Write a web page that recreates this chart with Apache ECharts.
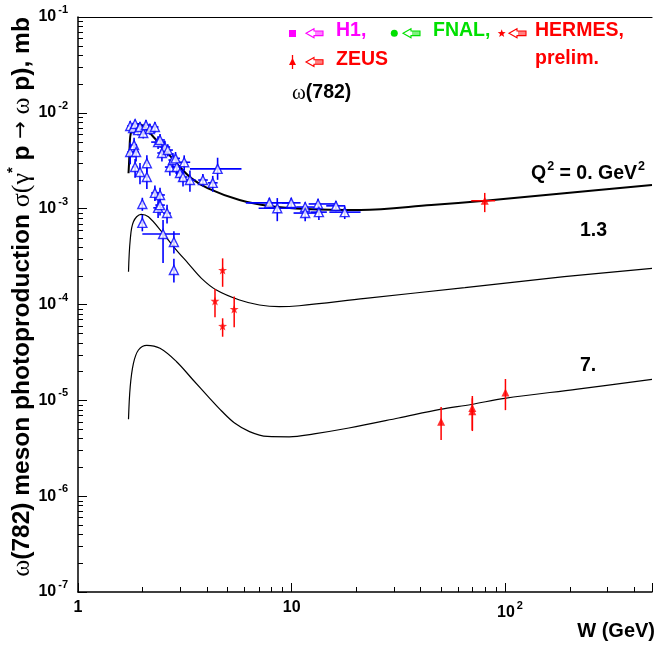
<!DOCTYPE html>
<html><head><meta charset="utf-8">
<script src="https://cdn.jsdelivr.net/npm/echarts@6/dist/echarts.min.js"></script>
<style>html,body{margin:0;padding:0;background:#fff}#c{width:655px;height:646px}</style>
</head><body><div id="c"></div>
<script>
// ---- theory curves [W (GeV), sigma (mb)] ----
const curveQ0 = [[1.723,2.34e-3],[1.736,3.22e-3],[1.755,5.63e-3],[1.798,6.90e-3],[1.885,7.64e-3],[1.989,7.46e-3],[2.214,5.87e-3],[2.553,4.09e-3],[2.944,2.85e-3],[3.398,2.07e-3],[4.058,1.63e-3],[5.70,1.23e-3],[7.86,1.066e-3],[11.65,0.992e-3],[21.0,0.968e-3],[45.0,1.092e-3],[80.1,1.21e-3],[188.5,1.446e-3],[485,1.765e-3]];
const curveQ13 = [[1.723,2.20e-4],[1.755,4.71e-4],[1.817,7.31e-4],[1.974,8.73e-4],[2.135,8.24e-4],[2.464,5.75e-4],[2.841,3.86e-4],[3.276,2.69e-4],[3.782,1.876e-4],[4.441,1.416e-4],[5.70,1.113e-4],[7.06,0.988e-4],[8.75,0.948e-4],[10.84,0.971e-4],[22.13,1.16e-4],[64.6,1.497e-4],[188.5,1.95e-4],[485,2.385e-4]];
const curveQ7 = [[1.723,6.34e-6],[1.755,1.387e-5],[1.817,2.433e-5],[1.918,3.35e-5],[2.098,3.75e-5],[2.419,3.49e-5],[2.893,2.53e-5],[3.456,1.63e-5],[4.134,1.05e-5],[4.699,7.74e-6],[5.403,5.80e-6],[6.345,4.72e-6],[7.69,4.20e-6],[9.74,4.16e-6],[12.72,4.47e-6],[18.51,5.14e-6],[31.6,6.54e-6],[49.4,8.05e-6],[69.3,9.05e-6],[99.2,1.05e-5],[217.5,1.31e-5],[485,1.657e-5]];

// ---- data points: [W, sigma, Wlow, Whigh, sigmaLow, sigmaHigh] ----
const blueData = [
 [1.755,7.29e-3,1.70,1.81,6.4e-3,8.2e-3],[1.81,6.95e-3,1.75,1.87,6.1e-3,7.8e-3],[1.85,7.64e-3,1.79,1.92,6.8e-3,8.5e-3],
 [1.91,6.6e-3,1.85,1.97,5.8e-3,7.4e-3],[1.95,7.12e-3,1.89,2.02,6.3e-3,8.0e-3],[2.02,6.16e-3,1.96,2.08,5.4e-3,7.0e-3],
 [2.08,7.45e-3,2.01,2.15,6.5e-3,8.4e-3],[2.17,6.78e-3,2.10,2.25,5.9e-3,7.7e-3],[2.29,7.12e-3,2.20,2.38,6.2e-3,8.0e-3],
 [1.755,3.9e-3,1.70,1.81,2.9e-3,4.9e-3],[1.83,4.6e-3,1.77,1.89,3.7e-3,5.5e-3],[1.87,3.9e-3,1.81,1.93,3.1e-3,4.7e-3],
 [1.85,2.72e-3,1.80,1.90,2.1e-3,3.3e-3],[2.10,2.98e-3,2.05,2.15,2.4e-3,3.6e-3],[2.10,2.14e-3,2.05,2.15,1.6e-3,2.7e-3],
 [1.95,2.41e-3,1.90,2.00,1.8e-3,3.0e-3],[2.37,4.95e-3,2.20,2.55,4.2e-3,5.7e-3],[2.55,4.40e-3,2.40,2.70,3.7e-3,5.1e-3],
 [2.47,3.81e-3,2.35,2.60,3.1e-3,4.5e-3],[2.69,2.72e-3,2.55,2.85,2.2e-3,3.2e-3],[2.78,3.22e-3,2.65,2.92,2.7e-3,3.8e-3],
 [2.90,2.72e-3,2.75,3.05,2.2e-3,3.2e-3],[3.00,2.36e-3,2.85,3.15,1.9e-3,2.8e-3],[3.14,3.05e-3,2.95,3.35,2.5e-3,3.6e-3],
 [3.10,2.14e-3,2.95,3.25,1.7e-3,2.6e-3],[3.34,1.99e-3,3.15,3.55,1.5e-3,2.5e-3],[3.84,1.99e-3,3.65,4.05,1.7e-3,2.3e-3],
 [4.27,1.86e-3,4.05,4.50,1.5e-3,2.2e-3],[4.50,2.60e-3,3.34,5.82,2.0e-3,3.4e-3],[2.42,5.21e-3,2.30,2.55,4.5e-3,6.0e-3],
 [2.63,4.09e-3,2.50,2.78,3.5e-3,4.7e-3],[2.86,3.35e-3,2.72,3.00,2.9e-3,3.9e-3],
 [2.0,1.12e-3,1.95,2.05,0.95e-3,1.3e-3],[2.29,1.46e-3,2.20,2.40,1.2e-3,1.75e-3],[2.42,1.39e-3,2.30,2.55,1.15e-3,1.65e-3],
 [2.37,1.02e-3,2.25,2.50,0.80e-3,1.25e-3],[2.42,1.09e-3,2.30,2.55,0.85e-3,1.35e-3],[2.61,0.90e-3,2.50,2.72,0.70e-3,1.10e-3],
 [2.0,0.71e-3,1.95,2.05,0.58e-3,0.86e-3],[2.50,0.544e-3,2.0,3.0,0.271e-3,0.761e-3],[2.81,0.449e-3,2.75,2.87,0.34e-3,0.58e-3],
 [2.81,0.229e-3,2.75,2.87,0.17e-3,0.30e-3],
 [7.86,1.15e-3,6.1,10.0,1.0e-3,1.3e-3],[8.56,1.01e-3,7.0,10.5,0.74e-3,1.29e-3],[9.95,1.15e-3,9.0,11.0,1.0e-3,1.3e-3],
 [11.56,1.04e-3,10.5,12.7,0.92e-3,1.17e-3],[11.56,0.90e-3,10.2,13.0,0.74e-3,1.05e-3],[13.28,1.12e-3,12.0,16.0,0.98e-3,1.27e-3],
 [13.4,0.92e-3,12.3,14.6,0.76e-3,1.08e-3],[16.1,1.07e-3,14.5,17.8,0.94e-3,1.2e-3],[17.7,0.92e-3,15.0,21.0,0.78e-3,1.06e-3]
];
// HERMES prelim: [W, sigma, sigmaLow, sigmaHigh]
const hermesData = [[4.375,1.09e-4,7.35e-5,1.45e-4],[4.75,2.29e-4,1.53e-4,3.03e-4],[4.75,5.97e-5,4.61e-5,7.18e-5],[5.38,8.97e-5,5.78e-5,1.21e-4]];
// ZEUS: [W, sigma, Wlow, Whigh, sigmaLow, sigmaHigh]
const zeusData = [[80,1.21e-3,69.2,89.5,0.92e-3,1.46e-3],[50,5.98e-6,50,50,3.85e-6,8.5e-6],[70,8.3e-6,70,70,4.78e-6,1.11e-5],[70,7.7e-6,70,70,4.9e-6,1.05e-5],[100,1.21e-5,100,100,7.9e-6,1.67e-5]];

// ---- axes ----
const xMin = 1, xMax = 485, yMin = 1e-7, yMax = 1e-1;
const xMinorTicks = [2,3,4,5,6,7,8,9,20,30,40,50,60,70,80,90,200,300,400];
const yMinorTicks = [];
for (let e = -7; e <= -2; e++) for (let k = 2; k <= 9; k++) yMinorTicks.push(k * Math.pow(10, e));
const curveLabels = ['{b|Q}{s|2}{b| = 0. GeV}{s|2}', '1.3', '7.'];

const BLUE = '#0000ff', RED = '#ff0000', MAG = '#ff00ff', GREEN = '#00e000';
const SANS = 'Liberation Sans, Arial, sans-serif', SERIF = 'Liberation Serif, Times New Roman, serif';

function decadeLabel(v, isX) {
  const e = Math.round(Math.log10(v));
  if (Math.abs(v - Math.pow(10, e)) > 1e-6 * v) return '';
  if (isX && e === 0) return '1';
  if (isX && e === 1) return '10';
  if (isX) return '{pad|10}{sup|' + e + '}';
  return '10{sup|' + e + '}';
}
const supRich = {
  sup: { fontSize: 11, fontWeight: 'bold', fontFamily: SANS, color: '#000', padding: [0, 0, 14, 2] },
  pad: { fontSize: 16, fontWeight: 'bold', fontFamily: SANS, color: '#000', padding: [0, 0, 0, 9] }
};

function errBarRender(color, lw) {
  return function (params, api) {
    const c = api.coord([api.value(0), api.value(1)]);
    const xl = api.coord([api.value(2), api.value(1)]);
    const xh = api.coord([api.value(3), api.value(1)]);
    const yl = api.coord([api.value(0), api.value(4)]);
    const yh = api.coord([api.value(0), api.value(5)]);
    const ch = [];
    if (Math.abs(xh[0] - xl[0]) > 0.5) ch.push({ type: 'line', shape: { x1: xl[0], y1: c[1], x2: xh[0], y2: c[1] }, style: { stroke: color, lineWidth: lw } });
    ch.push({ type: 'line', shape: { x1: c[0], y1: yl[1], x2: c[0], y2: yh[1] }, style: { stroke: color, lineWidth: lw } });
    return { type: 'group', children: ch };
  };
}
function minorTickRender(dir) {
  return function (params, api) {
    const p = api.coord([api.value(0), api.value(1)]);
    if (dir === 'x') {
      const x = Math.round(p[0]) + 0.5;
      return { type: 'line', shape: { x1: x, y1: p[1], x2: x, y2: p[1] - 5 }, style: { stroke: '#000', lineWidth: 1 } };
    }
    const y = Math.round(p[1]) + 0.5;
    return { type: 'line', shape: { x1: p[0], y1: y, x2: p[0] + 5, y2: y }, style: { stroke: '#000', lineWidth: 1 } };
  };
}
const starPath = 'path://M0,-10L2.35,-3.24L9.51,-3.09L3.8,1.24L5.88,8.09L0,4L-5.88,8.09L-3.8,1.24L-9.51,-3.09L-2.35,-3.24Z';
function starPoints(cx, cy, r) {
  const pts = [];
  for (let i = 0; i < 10; i++) {
    const a = -Math.PI / 2 + i * Math.PI / 5, rr = i % 2 ? r * 0.42 : r;
    pts.push([cx + rr * Math.cos(a), cy + rr * Math.sin(a)]);
  }
  return pts;
}
function arrow(x, y, color) {
  const ch = [{ type: 'polygon', shape: { points: [[x, y], [x + 8, y - 4.5], [x + 8, y - 2.3], [x + 17, y - 2.3], [x + 17, y + 2.3], [x + 8, y + 2.3], [x + 8, y + 4.5]] }, style: { fill: '#fff', stroke: color, lineWidth: 1.1 } }];
  for (let i = 0; i < 4; i++) { const xx = x + 10 + i * 2; ch.push({ type: 'line', shape: { x1: xx, y1: y - 2.3, x2: xx, y2: y + 2.3 }, style: { stroke: color, lineWidth: 1 } }); }
  return { type: 'group', children: ch };
}
function txt(x, y, text, color, extra) {
  return { type: 'text', x: x, y: y, style: Object.assign({ text: text, fill: color, fontSize: 19.5, fontWeight: 'bold', fontFamily: SANS, verticalAlign: 'middle', textAlign: 'left' }, extra || {}) };
}

const chart = echarts.init(document.getElementById('c'), null, { renderer: 'canvas' });
chart.setOption({
  animation: false,
  backgroundColor: '#fff',
  grid: { left: 78, right: 0, top: 17, bottom: 54, containLabel: false },
  xAxis: [
    { type: 'log', logBase: 10, min: xMin, max: xMax, position: 'bottom',
      axisLine: { show: true, lineStyle: { color: '#000', width: 1.5 } },
      axisTick: { show: true, inside: true, length: 9, lineStyle: { color: '#000', width: 1 } },
      axisLabel: { show: true, margin: 8, color: '#000', fontSize: 16, fontWeight: 'bold', fontFamily: SANS, showMinLabel: true,
        formatter: v => decadeLabel(v, true), rich: supRich },
      splitLine: { show: false } },
    { type: 'log', logBase: 10, min: xMin, max: xMax, position: 'top',
      axisLine: { show: true, lineStyle: { color: '#000', width: 1.2 } },
      axisTick: { show: false }, axisLabel: { show: false }, splitLine: { show: false } }
  ],
  yAxis: [
    { type: 'log', logBase: 10, min: yMin, max: yMax,
      axisLine: { show: true, lineStyle: { color: '#000', width: 1.5 } },
      axisTick: { show: true, inside: true, length: 9, lineStyle: { color: '#000', width: 1 } },
      axisLabel: { show: true, margin: 10, color: '#000', fontSize: 16, fontWeight: 'bold', fontFamily: SANS, showMinLabel: true, showMaxLabel: true,
        formatter: v => decadeLabel(v, false), rich: supRich },
      splitLine: { show: false } }
  ],
  series: [
    { type: 'custom', silent: true, clip: false, data: xMinorTicks.map(v => [v, yMin]), renderItem: minorTickRender('x'), z: 5 },
    { type: 'custom', silent: true, clip: false, data: yMinorTicks.map(v => [xMin, v]), renderItem: minorTickRender('y'), z: 5 },
    { type: 'line', data: curveQ0, showSymbol: false, smooth: 0.35, lineStyle: { color: '#000', width: 2 }, z: 3, silent: true },
    { type: 'line', data: curveQ13, showSymbol: false, smooth: 0.35, lineStyle: { color: '#000', width: 1.2 }, z: 3, silent: true },
    { type: 'line', data: curveQ7, showSymbol: false, smooth: 0.35, lineStyle: { color: '#000', width: 1.2 }, z: 3, silent: true },
    { type: 'custom', data: blueData, renderItem: errBarRender(BLUE, 1.6), z: 4, silent: true },
    { type: 'custom', data: hermesData.map(r => [r[0], r[1], r[0], r[0], r[2], r[3]]), renderItem: errBarRender(RED, 1.5), z: 4, silent: true },
    { type: 'custom', data: zeusData, renderItem: errBarRender(RED, 1.5), z: 4, silent: true },
    { type: 'scatter', data: blueData.map(r => [r[0], r[1]]), symbol: 'triangle', symbolSize: 9,
      itemStyle: { color: '#fff', borderColor: BLUE, borderWidth: 1.4 }, z: 6, silent: true },
    { type: 'scatter', data: hermesData.map(r => [r[0], r[1]]), symbol: starPath, symbolSize: 9,
      itemStyle: { color: RED }, z: 6, silent: true },
    { type: 'scatter', data: zeusData.map(r => [r[0], r[1]]), symbol: 'triangle', symbolSize: 8,
      itemStyle: { color: RED }, z: 6, silent: true }
  ],
  graphic: [
    { type: 'rect', shape: { x: 289, y: 30, width: 7, height: 7 }, style: { fill: MAG } },
    arrow(306, 33.3, MAG), txt(336, 31, 'H1,', MAG),
    { type: 'line', shape: { x1: 292.5, y1: 55, x2: 292.5, y2: 69 }, style: { stroke: RED, lineWidth: 1.3 } },
    { type: 'polygon', shape: { points: [[292.5, 58], [296, 65], [289, 65]] }, style: { fill: RED } },
    arrow(306, 62, RED), txt(336, 59.5, 'ZEUS', RED),
    { type: 'circle', shape: { cx: 394.3, cy: 33.3, r: 3.5 }, style: { fill: GREEN } },
    arrow(403, 33.3, GREEN), txt(433, 31, 'FNAL,', GREEN),
    { type: 'polygon', shape: { points: starPoints(501.7, 33.5, 4.2) }, style: { fill: RED } },
    arrow(509, 33.3, RED), txt(535, 31, 'HERMES,', RED), txt(535, 58.5, 'prelim.', RED),
    txt(292, 93, '{g|ω}(782)', '#000', { rich: { g: { fontFamily: SERIF, fontSize: 21, fontWeight: 'normal', fill: '#000' } } }),
    txt(531, 174, curveLabels[0], '#000', { rich: { b: { fontSize: 19.5, fontWeight: 'bold', fontFamily: SANS, fill: '#000' }, s: { fontSize: 12.5, fontWeight: 'bold', fontFamily: SANS, fill: '#000', padding: [0, 0, 14, 1] } } }),
    txt(580, 231, curveLabels[1], '#000'),
    txt(580, 366, curveLabels[2], '#000'),
    txt(655, 631, 'W (GeV)', '#000', { textAlign: 'right', fontSize: 20 }),
    { type: 'text', x: 22, y: 297, rotation: Math.PI / 2,
      style: { text: '{g|ω}(782) meson photoproduction {g|σ(γ}{s|*}{n| p }{a|→}{g| ω}{n| p), mb}', fill: '#000', fontSize: 24.5, fontWeight: 'bold', fontFamily: SANS, textAlign: 'center', verticalAlign: 'middle',
        rich: { g: { fontFamily: SERIF, fontSize: 26, fontWeight: 'normal', fill: '#000' },
                n: { fontFamily: SANS, fontSize: 24.5, fontWeight: 'bold', fill: '#000' },
                a: { fontFamily: 'DejaVu Sans', fontSize: 21, fontWeight: 'normal', fill: '#000' },
                s: { fontFamily: SANS, fontSize: 15, fontWeight: 'bold', fill: '#000', padding: [0, 0, 18, 0] } } } }
  ]
});
</script></body></html>
